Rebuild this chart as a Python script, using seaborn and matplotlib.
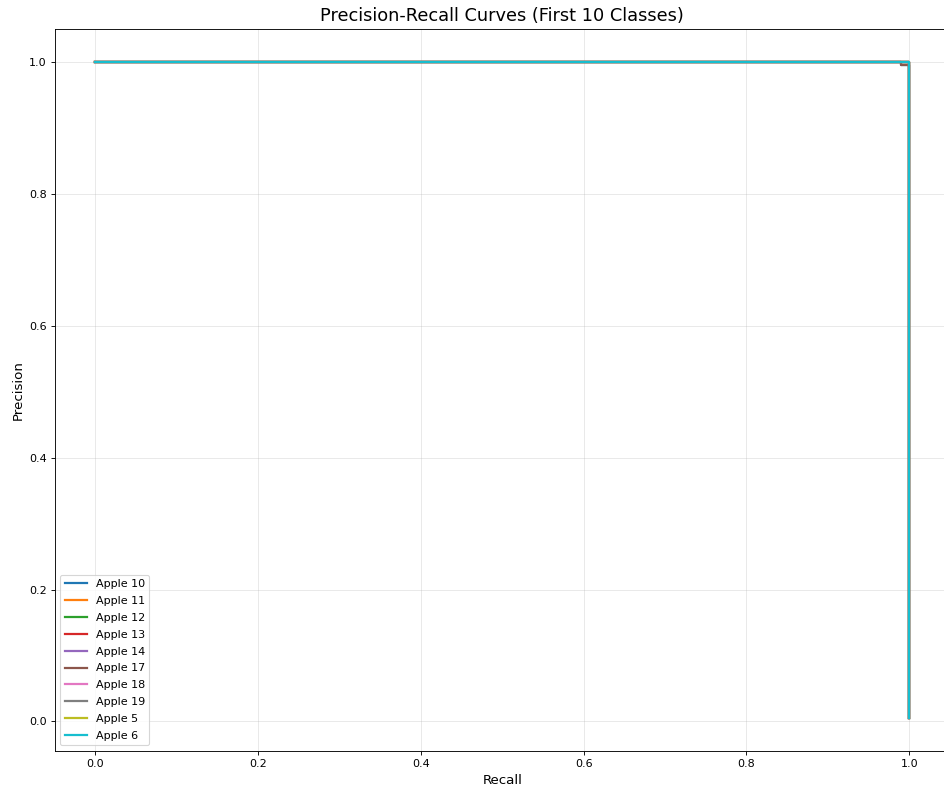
import matplotlib
matplotlib.use("Agg")
import matplotlib.pyplot as plt
import seaborn as sns
import pandas as pd

# Per-class precision-recall points (recall, precision)
classes = ["Apple 10", "Apple 11", "Apple 12", "Apple 13", "Apple 14",
           "Apple 17", "Apple 18", "Apple 19", "Apple 5", "Apple 6"]

recall_default = [0.0, 1.0, 1.0]
precision_default = [1.0, 1.0, 0.005]

recall_step = [0.0, 0.99, 0.99, 1.0, 1.0]
precision_step = [1.0, 1.0, 0.995, 0.995, 0.005]

curves = {
    "Apple 10": (recall_step, precision_step),
    "Apple 11": (recall_default, precision_default),
    "Apple 12": (recall_default, precision_default),
    "Apple 13": (recall_default, precision_default),
    "Apple 14": (recall_default, precision_default),
    "Apple 17": (recall_step, precision_step),
    "Apple 18": (recall_default, precision_default),
    "Apple 19": (recall_default, precision_default),
    "Apple 5": (recall_default, precision_default),
    "Apple 6": (recall_default, precision_default),
}

rows = []
for cls in classes:
    rec, prec = curves[cls]
    for i, (r, p) in enumerate(zip(rec, prec)):
        rows.append({"cls": cls, "order": i, "recall": r, "precision": p})
df = pd.DataFrame(rows)

plt.rcParams["font.family"] = ["DejaVu Sans"]

DPI = 80
fig = plt.figure(figsize=(944 / DPI, 790 / DPI), dpi=DPI)
ax = fig.add_axes([54.5 / 944, 1 - 751 / 790, (950 - 54.5) / 944, (751 - 29) / 790])

sns.lineplot(data=df, x="recall", y="precision", hue="cls", hue_order=classes,
             palette="tab10", estimator=None, sort=False, units="cls",
             linewidth=2, ax=ax)

ax.set_title("Precision-Recall Curves (First 10 Classes)", fontsize=16, pad=7)
ax.set_xlabel("Recall", fontsize=12, labelpad=5)
ax.set_ylabel("Precision", fontsize=12)
ax.tick_params(axis="both", labelsize=10)
ax.grid(True, alpha=0.3)

ax.legend(loc="lower left", fontsize=10, labelspacing=0.62)

fig.savefig("out.png", dpi=DPI)
